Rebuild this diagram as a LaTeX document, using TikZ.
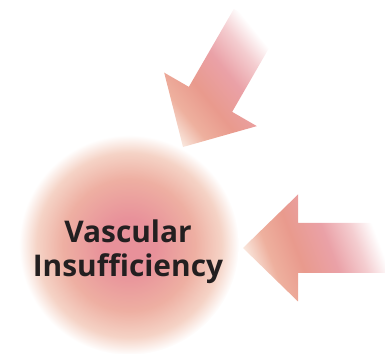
\documentclass[tikz,border=0pt]{standalone}
\usepackage{fontspec}
\setmainfont{Open Sans}
\usepackage{tikz}

\definecolor{corepink}{HTML}{E8919A}
\definecolor{midpeach}{HTML}{EEAFA2}
\definecolor{edgepeach}{HTML}{F5D3C6}
\definecolor{tipcream}{HTML}{F9E6DC}
\definecolor{salmon}{HTML}{EEB09E}
\definecolor{deepsalmon}{HTML}{E99A8D}
\definecolor{rosepink}{HTML}{EAA1A7}
\definecolor{palerose}{HTML}{F4CDD0}
\definecolor{inkgray}{HTML}{231F20}

\pgfdeclareradialshading{coreglow}{\pgfpoint{0bp}{0bp}}{color(0bp)=(corepink); color(6bp)=(corepink); color(15bp)=(midpeach); color(21bp)=(edgepeach); color(25bp)=(white); color(50bp)=(white)}
\pgfdeclarehorizontalshading{arrowfade}{100bp}{color(0bp)=(tipcream); color(25bp)=(tipcream); color(33bp)=(salmon); color(43bp)=(deepsalmon); color(55bp)=(rosepink); color(65bp)=(palerose); color(73bp)=(white); color(100bp)=(white)}

\tikzset{
  glowdisc/.style={circle, shade, shading=coreglow, minimum size=4.4cm, inner sep=0pt},
  corelabel/.style={align=center, text=inkgray, font=\bfseries\fontsize{17}{19.3}\selectfont},
  blockarrow/.style={shade, shading=arrowfade}
}

\begin{document}
\begin{tikzpicture}[x=0.02cm,y=0.02cm]
  \useasboundingbox (0,0) rectangle (385,354);
  \node[glowdisc] (core) at (129,109) {};
  \node[corelabel] (name) at (128,102) {Vascular\\Insufficiency};
  % two block arrows, drawn pointing left and turned into place
  \foreach \tx/\ty/\rot/\tilt in {243/106/0/21,183/207/60/-21}
  {
    \begin{scope}[transform canvas={shift={(\tx,\ty)},rotate=\rot}]
      \shade[blockarrow,shading angle=\tilt] (0,0) -- (55,53.5) -- (55,25) -- (145,25)
        -- (145,-25) -- (55,-25) -- (55,-53.5) -- cycle;
    \end{scope}
  }
\end{tikzpicture}
\end{document}
